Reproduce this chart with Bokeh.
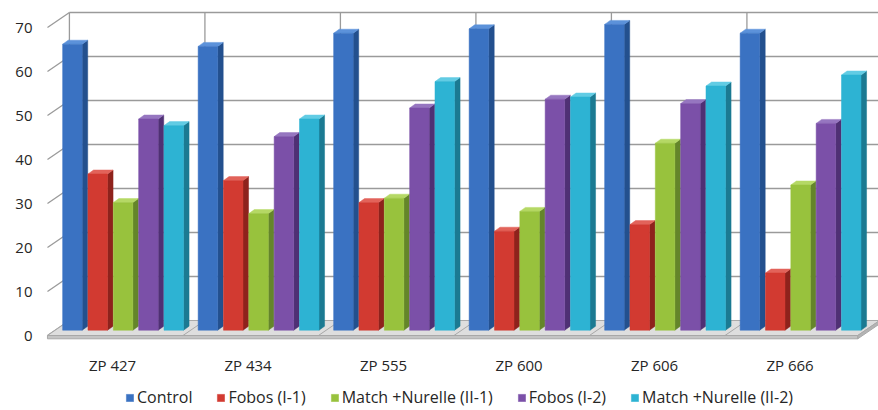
from bokeh.plotting import figure
from bokeh.models import Range1d, Legend, LegendItem, ColumnDataSource, FixedTicker
from bokeh.embed import file_html
from bokeh.resources import INLINE

# ---------------- data ----------------
categories = ["ZP 427", "ZP 434", "ZP 555", "ZP 600", "ZP 606", "ZP 666"]
series_names = ["Control", "Fobos (I-1)", "Match +Nurelle (II-1)", "Fobos (I-2)", "Match +Nurelle (II-2)"]
control = [65, 64.5, 67.5, 68.5, 69.5, 67.5]
fobos_i1 = [35.5, 34, 29, 22.5, 24, 13]
match_ii1 = [29, 26.5, 30, 27, 42.5, 33]
fobos_i2 = [48, 44, 50.5, 52.5, 51.5, 47]
match_ii2 = [46.5, 48, 56.5, 53, 55.5, 58]
y_ticks = [0, 10, 20, 30, 40, 50, 60, 70]

series_values = [control, fobos_i1, match_ii1, fobos_i2, match_ii2]

# ---------------- styles ----------------
front_colors = ["#3A72C2", "#D23A31", "#98C23D", "#7B50A8", "#2DB3D3"]
side_colors = ["#23508E", "#8E221C", "#64852A", "#4F3074", "#1B7A92"]
top_colors = ["#5C92DA", "#E2635A", "#B5D865", "#9676C0", "#62CCE4"]
font = "Open Sans"
text_color = "#262626"
grid_color = "#9A9A9A"

# 3D geometry (data units)
DX, DY = 0.162, 3.41          # depth of the chart box
X0, X1 = -0.48, 5.5           # floor front left / right
B0 = 1.2                      # bars stand slightly behind the floor front
PITCH, SHIFT, HALF_W = 0.187, 0.078, 0.072
BDX, BDY = 0.041, 0.91        # bar depth

p = figure(width=878, height=410,
           x_range=Range1d(-0.5314, 5.6531), y_range=Range1d(-17.045, 75.0),
           output_backend="svg", toolbar_location=None,
           min_border_left=40, min_border_right=0, min_border_top=5, min_border_bottom=0)
p.outline_line_color = None
p.background_fill_color = "white"
p.border_fill_color = "white"
p.xgrid.visible = False
p.ygrid.visible = False

# ---------------- walls ----------------
top_v = y_ticks[-1]
# side-wall diagonals at each tick
p.segment(x0=[X0] * len(y_ticks), y0=y_ticks,
          x1=[X0 + DX] * len(y_ticks), y1=[v + DY for v in y_ticks],
          line_color=grid_color, line_width=1.3)
# back wall horizontal grid lines
back_v = [v for v in y_ticks if v > 0]
p.segment(x0=[X0 + DX] * len(back_v), y0=[v + DY for v in back_v],
          x1=[X1 + DX + 0.2] * len(back_v), y1=[v + DY for v in back_v],
          line_color=grid_color, line_width=1.3)
# back wall vertical lines (category boundaries)
bx = [X0 + DX + k for k in range(len(categories))]
p.segment(x0=bx, y0=[DY] * len(bx), x1=bx, y1=[top_v + DY] * len(bx),
          line_color=grid_color, line_width=1.3)

# ---------------- floor ----------------
p.patch([X0, X1, X1 + DX, X0 + DX], [0, 0, DY, DY],
        fill_color="#DEDEDE", line_color="#A8A8A8", line_width=1)
p.patch([X0, X1, X1, X0], [0, 0, -0.75, -0.75],
        fill_color="#C4C4C4", line_color="#A8A8A8", line_width=1)
p.patch([X1, X1 + DX, X1 + DX, X1], [0, DY, DY - 0.75, -0.75],
        fill_color="#B4B4B4", line_color="#A8A8A8", line_width=1)
fk = [X0 + k for k in range(1, len(categories))]
p.segment(x0=fk, y0=[0] * len(fk), x1=[x + DX for x in fk], y1=[DY] * len(fk),
          line_color="#A8A8A8", line_width=1)

# ---------------- bars ----------------
legend_items = []
for j, (name, vals) in enumerate(zip(series_names, series_values)):
    centers = [i + (j - 2) * PITCH + SHIFT for i in range(len(categories))]
    xl = [c - HALF_W for c in centers]
    xr = [c + HALF_W for c in centers]
    tops = [B0 + v for v in vals]
    side_xs = [[r, r + BDX, r + BDX, r] for r in xr]
    side_ys = [[B0, B0 + BDY, t + BDY, t] for t in tops]
    top_xs = [[l, r, r + BDX, l + BDX] for l, r in zip(xl, xr)]
    top_ys = [[t, t, t + BDY, t + BDY] for t in tops]
    p.patches(side_xs, side_ys, fill_color=side_colors[j], line_color=side_colors[j], line_width=0.5)
    p.patches(top_xs, top_ys, fill_color=top_colors[j], line_color=top_colors[j], line_width=0.5)
    src = ColumnDataSource(dict(left=xl, right=xr, bottom=[B0] * len(vals), top=tops, value=vals))
    r = p.quad(left="left", right="right", bottom="bottom", top="top", source=src,
               fill_color=front_colors[j], line_color=front_colors[j], line_width=0.5)
    legend_items.append(LegendItem(label=name, renderers=[r]))

# ---------------- axes ----------------
p.yaxis.ticker = FixedTicker(ticks=y_ticks, minor_ticks=[])
p.yaxis.axis_line_color = None
p.yaxis.major_tick_line_color = None
p.yaxis.minor_tick_line_color = None
p.yaxis.major_tick_out = 0
p.yaxis.major_tick_in = 0
p.yaxis.major_label_standoff = 8
p.yaxis.major_label_text_font = font
p.yaxis.major_label_text_font_size = "15px"
p.yaxis.major_label_text_color = text_color

p.xaxis.ticker = FixedTicker(ticks=list(range(len(categories))), minor_ticks=[])
p.xaxis.major_label_overrides = {i: c for i, c in enumerate(categories)}
p.xaxis.fixed_location = -2.0
p.xaxis.axis_line_color = None
p.xaxis.major_tick_line_color = None
p.xaxis.minor_tick_line_color = None
p.xaxis.major_label_standoff = 5
p.xaxis.major_label_text_font = font
p.xaxis.major_label_text_font_size = "15px"
p.xaxis.major_label_text_color = text_color

# ---------------- legend ----------------
legend = Legend(items=legend_items, orientation="horizontal", location=(85, 2),
                glyph_width=9, glyph_height=9, label_standoff=3, spacing=24,
                padding=0, margin=0, border_line_color=None, background_fill_alpha=0,
                label_text_font=font, label_text_font_size="16px", label_text_color=text_color)
p.add_layout(legend)

open("out.html", "w").write(file_html(p, INLINE))
